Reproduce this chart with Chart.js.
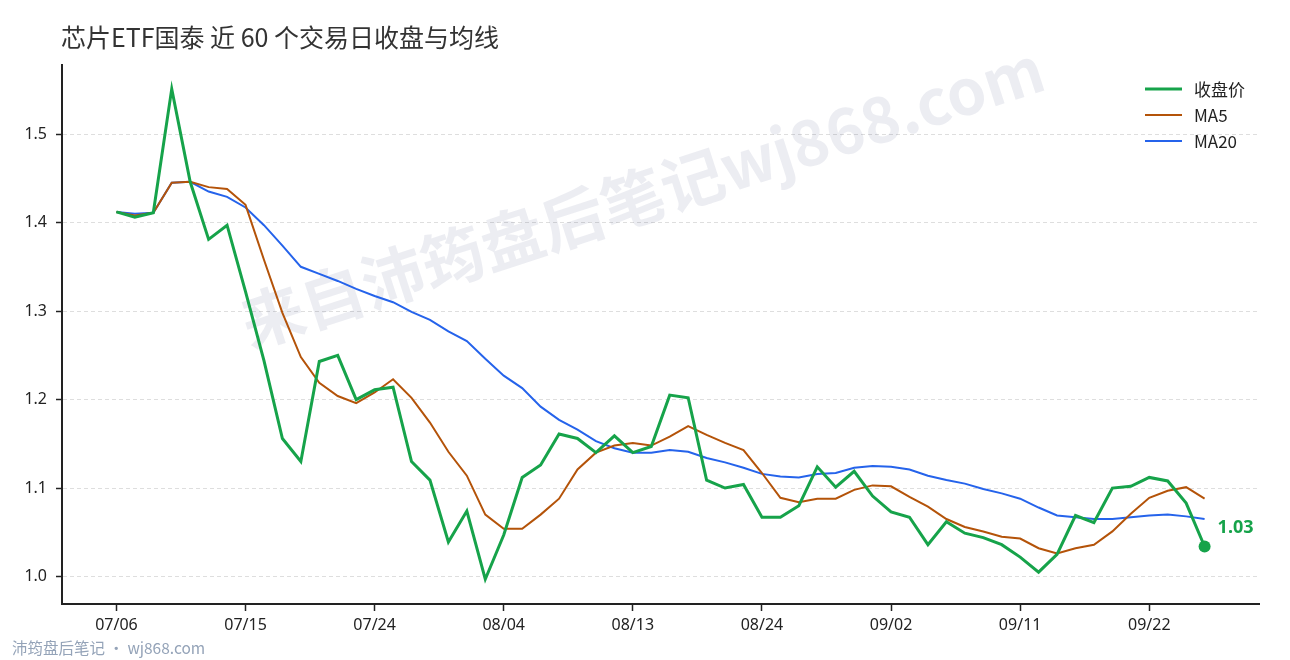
<!DOCTYPE html>
<html><head><meta charset="utf-8">
<script src="https://cdn.jsdelivr.net/npm/chart.js@4.4.0/dist/chart.umd.min.js"></script>
<style>html,body{margin:0;padding:0;background:#fff}#wrap{width:1290px;height:660px;position:relative}</style>
</head><body><div id="wrap"><canvas id="c" width="1290" height="660"></canvas></div>
<script>
const dates = ['07/06','07/07','07/08','07/09','07/10','07/13','07/14','07/15','07/16','07/17',
  '07/20','07/21','07/22','07/23','07/24','07/27','07/28','07/29','07/30','07/31',
  '08/03','08/04','08/05','08/06','08/07','08/10','08/11','08/12','08/13','08/14',
  '08/17','08/18','08/19','08/20','08/21','08/24','08/25','08/26','08/27','08/28',
  '08/31','09/01','09/02','09/03','09/04','09/07','09/08','09/09','09/10','09/11',
  '09/14','09/15','09/16','09/17','09/18','09/21','09/22','09/23','09/24','09/25'];
const closePrice = [1.412,1.406,1.411,1.551,1.446,1.381,1.397,1.322,1.244,1.156,
  1.130,1.243,1.250,1.200,1.211,1.214,1.130,1.109,1.039,1.074,
  0.997,1.047,1.112,1.126,1.161,1.156,1.140,1.159,1.140,1.147,
  1.205,1.202,1.109,1.100,1.104,1.067,1.067,1.080,1.124,1.101,
  1.119,1.091,1.073,1.067,1.036,1.062,1.049,1.044,1.036,1.022,
  1.005,1.025,1.069,1.061,1.100,1.102,1.112,1.108,1.083,1.034];
const ma5 = [1.412,1.408,1.411,1.445,1.446,1.440,1.438,1.420,1.358,1.298,
  1.248,1.219,1.204,1.196,1.208,1.223,1.202,1.174,1.141,1.114,
  1.070,1.054,1.054,1.070,1.088,1.121,1.140,1.148,1.151,1.148,
  1.158,1.170,1.160,1.151,1.143,1.117,1.089,1.084,1.088,1.088,
  1.098,1.103,1.102,1.090,1.079,1.065,1.056,1.051,1.045,1.043,
  1.032,1.026,1.032,1.036,1.051,1.071,1.089,1.097,1.101,1.088];
const ma20 = [1.412,1.410,1.411,1.445,1.446,1.435,1.429,1.417,1.397,1.374,
  1.350,1.342,1.334,1.325,1.317,1.310,1.299,1.290,1.277,1.266,
  1.246,1.227,1.213,1.192,1.177,1.166,1.153,1.145,1.140,1.140,
  1.143,1.141,1.134,1.129,1.123,1.116,1.113,1.112,1.116,1.117,
  1.123,1.125,1.124,1.121,1.114,1.109,1.105,1.099,1.094,1.088,
  1.078,1.069,1.067,1.065,1.065,1.067,1.069,1.070,1.068,1.065];
const xTickIndex = [0,7,14,21,28,35,42,49,56];
const yTickValues = [1.0,1.1,1.2,1.3,1.4,1.5];
const yMin = 0.969, yMax = 1.578;
const xMin = -2.95, xMax = 61.95;
const seriesNames = ['收盘价','MA5','MA20'];
const titleText = '芯片ETF国泰 近 60 个交易日收盘与均线';
const footerText = '沛筠盘后笔记 · wj868.com';
const watermarkText = '来自沛筠盘后笔记wj868.com';

const COLORS = ['#16a34a','#b45309','#2563eb'];
const WIDTHS = [3, 2, 2];
const FONT = '"Noto Sans", "Noto Sans CJK SC", sans-serif';
const CJK = '"Noto Sans CJK SC", "Noto Sans", sans-serif';
const lastIdx = closePrice.length - 1;

const toXY = arr => arr.map((v, i) => ({x: i, y: v}));

const decor = {
  id: 'decor',
  beforeDatasetsDraw(chart) {
    const ctx = chart.ctx;
    ctx.save();
    ctx.translate(642, 196);
    ctx.rotate(-18 * Math.PI / 180);
    ctx.font = 'bold 63px ' + CJK;
    ctx.fillStyle = 'rgba(40,50,100,0.085)';
    ctx.textAlign = 'center';
    ctx.textBaseline = 'middle';
    ctx.fillText(watermarkText, 0, 0);
    ctx.restore();
  },
  afterDraw(chart) {
    const ctx = chart.ctx;
    ctx.save();
    // title
    ctx.font = '25px ' + CJK;
    ctx.fillStyle = '#333';
    ctx.textAlign = 'left';
    ctx.textBaseline = 'middle';
    ctx.fillText(titleText, 61, 37);
    // legend
    const rows = [89, 115, 141];
    for (let i = 0; i < 3; i++) {
      ctx.strokeStyle = COLORS[i];
      ctx.lineWidth = WIDTHS[i];
      ctx.beginPath();
      ctx.moveTo(1145, rows[i]);
      ctx.lineTo(1182, rows[i]);
      ctx.stroke();
      ctx.font = '17px ' + CJK;
      ctx.fillStyle = '#222';
      ctx.textBaseline = 'middle';
      ctx.fillText(seriesNames[i], 1194, rows[i] + 1);
    }
    // end label
    const meta = chart.getDatasetMeta(0);
    const pt = meta.data[lastIdx];
    ctx.font = 'bold 18px ' + FONT;
    ctx.fillStyle = COLORS[0];
    ctx.textAlign = 'left';
    ctx.textBaseline = 'middle';
    ctx.fillText(closePrice[lastIdx].toFixed(2), pt.x + 13, pt.y - 19);
    // footer
    ctx.font = '15.5px ' + CJK;
    ctx.fillStyle = '#94a3b8';
    ctx.textBaseline = 'middle';
    ctx.fillText(footerText, 12, 648);
    ctx.restore();
  }
};

new Chart(document.getElementById('c'), {
  type: 'line',
  data: {
    datasets: [
      {label: seriesNames[0], data: toXY(closePrice), borderColor: COLORS[0], backgroundColor: COLORS[0],
       borderWidth: WIDTHS[0], tension: 0, borderJoinStyle: 'miter',
       pointRadius: c => c.dataIndex === lastIdx ? 6 : 0, pointBorderWidth: 0,
       pointBackgroundColor: COLORS[0], pointHoverRadius: 0},
      {label: seriesNames[1], data: toXY(ma5), borderColor: COLORS[1], borderWidth: WIDTHS[1],
       tension: 0, pointRadius: 0, pointHoverRadius: 0},
      {label: seriesNames[2], data: toXY(ma20), borderColor: COLORS[2], borderWidth: WIDTHS[2],
       tension: 0, pointRadius: 0, pointHoverRadius: 0}
    ]
  },
  options: {
    responsive: false,
    animation: false,
    events: [],
    layout: {padding: {top: 65, left: 0, right: 31, bottom: 0}},
    plugins: {legend: {display: false}, tooltip: {enabled: false}, title: {display: false}},
    scales: {
      x: {
        type: 'linear', min: xMin, max: xMax,
        afterFit: s => { s.height = 56; },
        afterBuildTicks: s => { s.ticks = xTickIndex.map(v => ({value: v})); },
        grid: {drawOnChartArea: false, drawTicks: true, tickLength: 7, tickColor: '#222', tickWidth: 1.5},
        border: {display: true, color: '#222', width: 2},
        ticks: {font: {family: FONT, size: 16}, color: '#222', padding: 5, maxRotation: 0,
                autoSkip: false, callback: v => dates[v] || ''}
      },
      y: {
        min: yMin, max: yMax,
        afterFit: s => { s.width = 62; },
        afterBuildTicks: s => { s.ticks = yTickValues.map(v => ({value: v})); },
        grid: {color: '#dedede', lineWidth: 1, tickLength: 6, tickColor: '#222', tickWidth: 1.5},
        border: {display: true, color: '#222', width: 2, dash: [4, 3]},
        ticks: {font: {family: FONT, size: 16}, color: '#222', padding: 9, autoSkip: false,
                callback: v => Number(v).toFixed(1)}
      }
    }
  },
  plugins: [decor]
});
</script></body></html>
